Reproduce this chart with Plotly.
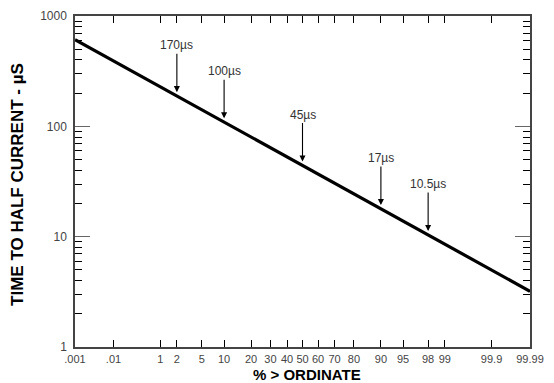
import plotly.graph_objects as go
from statistics import NormalDist
import math

# ---- data ----
line_pct = [0.01, 99.99]          # % > ordinate
line_us = [610.0, 3.2]            # time to half current, µs

ann_pct = [2, 10, 50, 90, 98]
ann_us = [170, 100, 45, 17, 10.5]
ann_text = ["170µs", "100µs", "45µs", "17µs", "10.5µs"]

xtick_pct = [0.01, 0.1, 1, 2, 5, 10, 20, 30, 40, 50, 60, 70, 80, 90, 95, 98, 99, 99.9, 99.99]
xtick_text = [".001", ".01", "1", "2", "5", "10", "20", "30", "40", "50", "60", "70", "80", "90", "95", "98", "99", "99.9", "99.99"]

ytick_vals = [1, 10, 100, 1000]
ytick_text = ["1", "10", "100", "1000"]

nd = NormalDist()
def z(p):
    return nd.inv_cdf(p / 100.0)

xz = [z(p) for p in line_pct]

def line_log_at(p):
    zz = z(p)
    t = (zz - xz[0]) / (xz[1] - xz[0])
    return math.log10(line_us[0]) + t * (math.log10(line_us[1]) - math.log10(line_us[0]))

fig = go.Figure()
fig.add_trace(go.Scatter(x=xz, y=line_us, mode="lines",
                         line=dict(color="black", width=3.2), showlegend=False))

for p, v, t in zip(ann_pct, ann_us, ann_text):
    fig.add_annotation(x=z(p), y=line_log_at(p) + 0.035, xref="x", yref="y",
                       text=t, showarrow=True, ax=0, ay=-47,
                       arrowhead=2, arrowsize=1.1, arrowwidth=1.1, arrowcolor="black",
                       font=dict(family="Liberation Sans, Arial", size=12, color="#333"))

minor_y = [m * 10 ** k for k in range(0, 3) for m in range(2, 10)]

fig.update_xaxes(range=[z(0.01), z(99.99)], tickmode="array",
                 tickvals=[z(p) for p in xtick_pct], ticktext=xtick_text,
                 tickangle=0, automargin=False,
                 ticks="inside", ticklen=7, tickwidth=1.2, tickcolor="black",
                 showline=True, linecolor="#444", linewidth=1.5, mirror="ticks",
                 showgrid=False, zeroline=False, ticklabelstandoff=1,
                 tickfont=dict(family="Liberation Sans, Arial", size=11, color="#444"))
fig.update_yaxes(type="log", range=[0, 3], tickmode="array",
                 tickvals=ytick_vals, ticktext=ytick_text, automargin=False,
                 ticks="inside", ticklen=15, tickwidth=1, tickcolor="#666",
                 minor=dict(tickvals=minor_y, ticks="inside", ticklen=7, tickcolor="black", tickwidth=1.2),
                 showline=True, linecolor="#444", linewidth=1.5, mirror="ticks",
                 showgrid=False, zeroline=False, ticklabelstandoff=4,
                 tickfont=dict(family="Liberation Sans, Arial", size=12, color="#444"))

fig.add_annotation(text="TIME TO HALF CURRENT - µS", xref="paper", yref="paper",
                   x=-0.125, y=0.49, xanchor="center", yanchor="middle", textangle=-90,
                   showarrow=False,
                   font=dict(family="Liberation Sans, Arial", size=17, color="black", weight="bold"))
fig.add_annotation(text="% > ORDINATE", xref="paper", yref="paper",
                   x=0.51, y=-0.084, xanchor="center", yanchor="middle",
                   showarrow=False,
                   font=dict(family="Liberation Sans, Arial", size=15, color="black", weight="bold"))

fig.update_layout(width=554, height=383, margin=dict(l=75, r=24, t=16, b=36),
                  paper_bgcolor="white", plot_bgcolor="white")
fig.write_html("out.html")
